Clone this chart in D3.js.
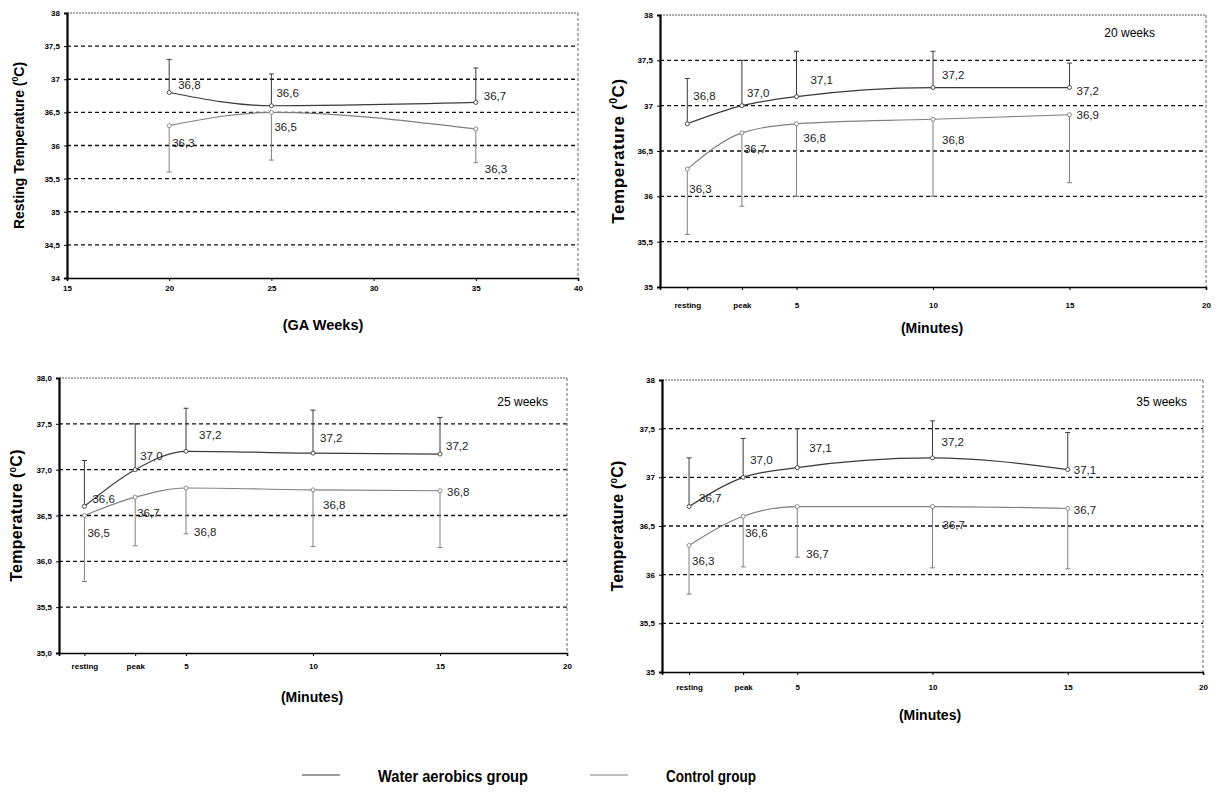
<!DOCTYPE html>
<html>
<head>
<meta charset="utf-8">
<script src="https://cdn.jsdelivr.net/npm/d3@7"></script>
<style>
  body { margin: 0; background: #fff; }
  svg { display: block; font-family: "Liberation Sans", Arial, sans-serif; }
</style>
</head>
<body>
<div id="chart"></div>
<script>
// resting temperature by gestational age
var gaWeeks = [20, 25, 35];
var restWater = [36.8, 36.6, 36.65];
var restWaterHi = [37.3, 37.08, 37.17];
var restControl = [36.3, 36.5, 36.25];
var restControlLo = [35.6, 35.78, 35.74];
var restWaterLbl = ["36,8", "36,6", "36,7"];
var restControlLbl = ["36,3", "36,5", "36,3"];

// minutes after exercise: resting, peak, 5, 10, 15
var minutes = [1, 3, 5, 10, 15];
var minuteTicks = [1, 3, 5, 10, 15, 20];
var minuteTickLbl = ["resting", "peak", "5", "10", "15", "20"];

var wk20Water = [36.8, 37.0, 37.1, 37.2, 37.2];
var wk20WaterHi = [37.3, 37.5, 37.6, 37.6, 37.47];
var wk20Control = [36.3, 36.7, 36.8, 36.85, 36.9];
var wk20ControlLo = [35.58, 35.89, 36.0, 36.0, 36.15];
var wk20WaterLbl = ["36,8", "37,0", "37,1", "37,2", "37,2"];
var wk20ControlLbl = ["36,3", "36,7", "36,8", "36,8", "36,9"];

var wk25Water = [36.6, 37.0, 37.2, 37.18, 37.17];
var wk25WaterHi = [37.1, 37.5, 37.67, 37.65, 37.57];
var wk25Control = [36.5, 36.7, 36.8, 36.78, 36.77];
var wk25ControlLo = [35.78, 36.17, 36.3, 36.16, 36.15];
var wk25WaterLbl = ["36,6", "37,0", "37,2", "37,2", "37,2"];
var wk25ControlLbl = ["36,5", "36,7", "36,8", "36,8", "36,8"];

var wk35Water = [36.7, 37.0, 37.1, 37.2, 37.08];
var wk35WaterHi = [37.2, 37.4, 37.5, 37.58, 37.46];
var wk35Control = [36.3, 36.6, 36.7, 36.7, 36.68];
var wk35ControlLo = [35.8, 36.08, 36.18, 36.07, 36.06];
var wk35WaterLbl = ["36,7", "37,0", "37,1", "37,2", "37,1"];
var wk35ControlLbl = ["36,3", "36,6", "36,7", "36,7", "36,7"];

var legendNames = ["Water aerobics group", "Control group"];

var W = 1224, H = 801;
var waterColor = "#3a3a3a";
var controlColor = "#808080";

var svg = d3.select("#chart").append("svg")
    .attr("width", W)
    .attr("height", H);

// format with comma decimal
function commaFmt(digits) {
  return function(d) {
    var s = digits ? d.toFixed(digits) : (d % 1 === 0 ? String(d) : d.toFixed(1));
    return s.replace(".", ",");
  };
}

function drawPanel(p) {
  var x = d3.scaleLinear().domain(p.xDomain).range([p.x0, p.x1]);
  var y = d3.scaleLinear().domain(p.yDomain).range([p.y1, p.y0]);
  var g = svg.append("g");

  // dashed gridlines
  var grid = d3.range(p.yDomain[0] + 0.5, p.yDomain[1] - 0.01, 0.5);
  g.selectAll(".grid").data(grid).enter().append("line")
    .attr("x1", p.x0).attr("x2", p.x1)
    .attr("y1", function(d) { return y(d); })
    .attr("y2", function(d) { return y(d); })
    .attr("stroke", "#111")
    .attr("stroke-width", 1.3)
    .attr("stroke-dasharray", "4,3");

  // top + right border
  g.append("line").attr("x1", p.x0).attr("x2", p.x1)
    .attr("y1", p.y0).attr("y2", p.y0)
    .attr("stroke", "#555").attr("stroke-width", 1)
    .attr("stroke-dasharray", "2,1");
  g.append("line").attr("x1", p.x1).attr("x2", p.x1)
    .attr("y1", p.y0).attr("y2", p.y1)
    .attr("stroke", "#666").attr("stroke-width", 1)
    .attr("stroke-dasharray", "3,2");

  // axes
  var yAxis = d3.axisLeft(y).tickValues(d3.range(p.yDomain[0], p.yDomain[1] + 0.01, 0.5))
    .tickSize(3).tickFormat(p.yFmt);
  var ya = g.append("g").attr("transform", "translate(" + p.x0 + ",0)").call(yAxis);
  ya.select(".domain").attr("stroke-width", 2.2).attr("stroke", "#000");
  ya.selectAll("text").attr("font-size", 8).attr("font-weight", "bold").attr("dx", -1);

  var xAxis = d3.axisBottom(x).tickValues(p.xTicks).tickSize(3)
    .tickFormat(function(d, i) { return p.xTickLbl[i]; });
  var xa = g.append("g").attr("transform", "translate(0," + p.y1 + ")").call(xAxis);
  xa.select(".domain").attr("stroke-width", 1.6).attr("stroke", "#000");
  xa.selectAll("text").attr("font-size", 8).attr("font-weight", "bold").attr("dy", p.xLblDy);

  // axis titles
  var sup = p.yTitleSize * 0.62;
  g.append("text")
    .attr("transform", "translate(" + p.yTitleX + "," + ((p.y0 + p.y1) / 2) + ") rotate(-90)")
    .attr("text-anchor", "middle")
    .attr("font-size", p.yTitleSize).attr("font-weight", "bold")
    .attr("letter-spacing", p.yTitleSpacing)
    .text(p.yTitle)
    .append("tspan").attr("font-size", sup).attr("dy", -p.yTitleSize * 0.4).text("0")
    .clone(true).attr("font-size", p.yTitleSize).attr("dy", p.yTitleSize * 0.4).text("C)");
  g.append("text")
    .attr("x", p.xTitleX).attr("y", p.xTitleY)
    .attr("text-anchor", "middle")
    .attr("font-size", p.xTitleSize).attr("font-weight", "bold")
    .text(p.xTitle);

  if (p.note) {
    g.append("text").attr("x", p.noteX).attr("y", p.noteY)
      .attr("text-anchor", "end").attr("font-size", 12)
      .text(p.note);
  }

  var line = d3.line()
    .x(function(d) { return x(d[0]); })
    .y(function(d) { return y(d[1]); })
    .curve(d3.curveMonotoneX);

  p.series.forEach(function(s) {
    var pts = p.xs.map(function(v, i) { return [v, s.vals[i], s.err[i], s.lbl[i], s.off[i]]; });
    g.selectAll(null).data(pts).enter().append("line")
      .attr("x1", function(d) { return x(d[0]); })
      .attr("x2", function(d) { return x(d[0]); })
      .attr("y1", function(d) { return y(d[1]); })
      .attr("y2", function(d) { return y(d[2]); })
      .attr("stroke", s.color).attr("stroke-width", 1);
    g.selectAll(null).data(pts).enter().append("line")
      .attr("x1", function(d) { return x(d[0]) - 2.5; })
      .attr("x2", function(d) { return x(d[0]) + 2.5; })
      .attr("y1", function(d) { return y(d[2]); })
      .attr("y2", function(d) { return y(d[2]); })
      .attr("stroke", s.color).attr("stroke-width", 1);
    g.append("path").datum(pts)
      .attr("d", line)
      .attr("fill", "none")
      .attr("stroke", s.color).attr("stroke-width", 1.2);
    g.selectAll(null).data(pts).enter().append("circle")
      .attr("cx", function(d) { return x(d[0]); })
      .attr("cy", function(d) { return y(d[1]); })
      .attr("r", 2)
      .attr("fill", "#fff").attr("stroke", s.color).attr("stroke-width", 0.9);
    g.selectAll(null).data(pts).enter().append("text")
      .attr("x", function(d) { return x(d[0]) + d[4][0]; })
      .attr("y", function(d) { return y(d[1]) + d[4][1]; })
      .attr("font-size", 11.5)
      .attr("fill", "#222")
      .text(function(d) { return d[3]; });
  });
}

drawPanel({
  x0: 67, x1: 578, y0: 13, y1: 278,
  xDomain: [15, 40], yDomain: [34, 38], yFmt: commaFmt(0),
  xTicks: [15, 20, 25, 30, 35, 40], xTickLbl: ["15", "20", "25", "30", "35", "40"], xLblDy: "0.9em",
  yTitle: "Resting Temperature (", yTitleX: 24, yTitleSize: 14, yTitleSpacing: 0,
  xTitle: "(GA Weeks)", xTitleX: 323, xTitleY: 330, xTitleSize: 14.5,
  xs: gaWeeks,
  series: [
    { vals: restWater, err: restWaterHi, lbl: restWaterLbl, color: waterColor,
      off: [[9, -4], [5, -9], [8, -2]] },
    { vals: restControl, err: restControlLo, lbl: restControlLbl, color: controlColor,
      off: [[3, 21], [3, 19], [9, 44]] }
  ]
});

drawPanel({
  x0: 660, x1: 1206, y0: 15, y1: 287,
  xDomain: [0, 20], yDomain: [35, 38], yFmt: commaFmt(0),
  xTicks: minuteTicks, xTickLbl: minuteTickLbl, xLblDy: "1.9em",
  yTitle: "Temperature (", yTitleX: 624, yTitleSize: 17, yTitleSpacing: 0.6,
  xTitle: "(Minutes)", xTitleX: 932, xTitleY: 333, xTitleSize: 14,
  note: "20 weeks", noteX: 1155, noteY: 37,
  xs: minutes,
  series: [
    { vals: wk20Water, err: wk20WaterHi, lbl: wk20WaterLbl, color: waterColor,
      off: [[6, -24], [5, -9], [14, -13], [9, -9], [7, 7]] },
    { vals: wk20Control, err: wk20ControlLo, lbl: wk20ControlLbl, color: controlColor,
      off: [[2, 24], [2, 20], [7, 18], [9, 25], [7, 4]] }
  ]
});

drawPanel({
  x0: 59, x1: 567, y0: 378, y1: 653,
  xDomain: [0, 20], yDomain: [35, 38], yFmt: commaFmt(1),
  xTicks: minuteTicks, xTickLbl: minuteTickLbl, xLblDy: "1.2em",
  yTitle: "Temperature (", yTitleX: 22, yTitleSize: 16, yTitleSpacing: 0.3,
  xTitle: "(Minutes)", xTitleX: 312, xTitleY: 702, xTitleSize: 14,
  note: "25 weeks", noteX: 548, noteY: 406,
  xs: minutes,
  series: [
    { vals: wk25Water, err: wk25WaterHi, lbl: wk25WaterLbl, color: waterColor,
      off: [[8, -3], [5, -10], [13, -12], [7, -11], [6, -4]] },
    { vals: wk25Control, err: wk25ControlLo, lbl: wk25ControlLbl, color: controlColor,
      off: [[3, 21], [2, 20], [8, 48], [10, 19], [7, 5]] }
  ]
});

drawPanel({
  x0: 662, x1: 1203, y0: 380, y1: 672,
  xDomain: [0, 20], yDomain: [35, 38], yFmt: commaFmt(0),
  xTicks: minuteTicks, xTickLbl: minuteTickLbl, xLblDy: "1.5em",
  yTitle: "Temperature (", yTitleX: 623, yTitleSize: 16, yTitleSpacing: 0.2,
  xTitle: "(Minutes)", xTitleX: 930, xTitleY: 720, xTitleSize: 14,
  note: "35 weeks", noteX: 1187, noteY: 406,
  xs: minutes,
  series: [
    { vals: wk35Water, err: wk35WaterHi, lbl: wk35WaterLbl, color: waterColor,
      off: [[10, -5], [7, -13], [12, -16], [9, -12], [6, 4]] },
    { vals: wk35Control, err: wk35ControlLo, lbl: wk35ControlLbl, color: controlColor,
      off: [[3, 20], [2, 21], [9, 51], [10, 22], [6, 6]] }
  ]
});

// legend
var legend = svg.append("g");
var legendX = [302, 590];
var legendTextW = [150, 90];
var legendColors = [waterColor, controlColor];
legendNames.forEach(function(name, i) {
  legend.append("line")
    .attr("x1", legendX[i]).attr("x2", legendX[i] + 38)
    .attr("y1", 775).attr("y2", 775)
    .attr("stroke", legendColors[i]).attr("stroke-width", 1);
  legend.append("text")
    .attr("x", legendX[i] + 76).attr("y", 782)
    .attr("font-size", 17).attr("font-weight", "bold")
    .attr("textLength", legendTextW[i])
    .attr("lengthAdjust", "spacingAndGlyphs")
    .text(name);
});
</script>
</body>
</html>
